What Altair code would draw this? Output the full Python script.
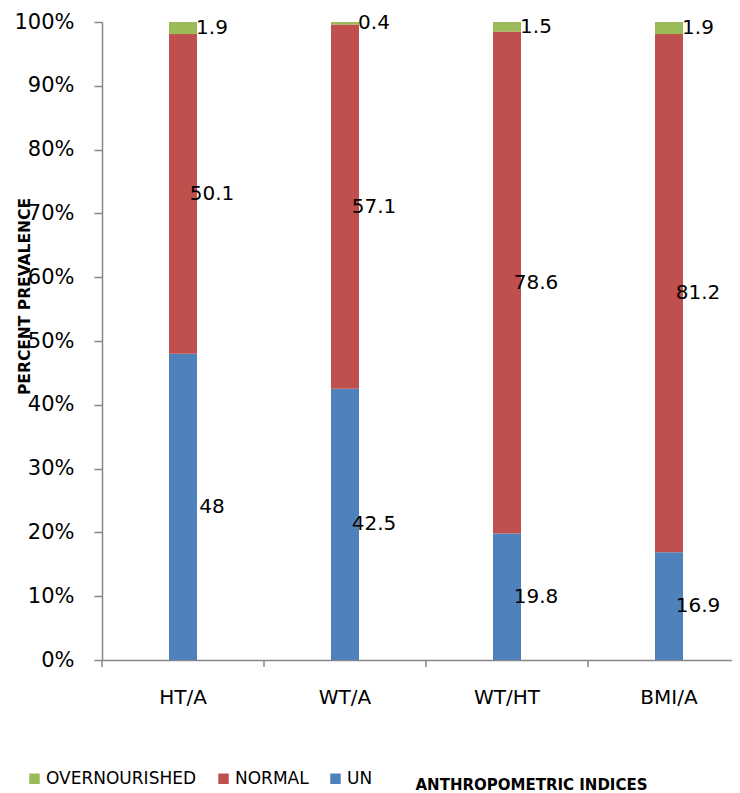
import altair as alt
import pandas as pd

categories = ["HT/A", "WT/A", "WT/HT", "BMI/A"]
un_values = [48, 42.5, 19.8, 16.9]
normal_values = [50.1, 57.1, 78.6, 81.2]
over_values = [1.9, 0.4, 1.5, 1.9]
series_names = ["OVERNOURISHED", "NORMAL", "UN"]
series_colors = ["#9BBB59", "#C0504D", "#4F81BD"]
y_ticks = [0, 0.1, 0.2, 0.3, 0.4, 0.5, 0.6, 0.7, 0.8, 0.9, 1.0]

rows = []
for i, c in enumerate(categories):
    for s, vals, order in [("UN", un_values, 0), ("NORMAL", normal_values, 1), ("OVERNOURISHED", over_values, 2)]:
        rows.append({"cat": c, "series": s, "value": vals[i], "stackorder": order, "label": str(vals[i])})
df = pd.DataFrame(rows)

FONT = "DejaVu Sans"
AXIS_COLOR = "#878787"

base = alt.Chart(df).transform_stack(
    stack="value", groupby=["cat"], as_=["y0", "y1"], offset="normalize",
    sort=[alt.SortField("stackorder", order="ascending")]
).transform_calculate(mid="(datum.y0 + datum.y1) / 2")

xscale = alt.Scale(range=[0, 648], paddingInner=0, paddingOuter=0)

x_enc = alt.X("cat:N", sort=categories, scale=xscale,
              axis=alt.Axis(title="ANTHROPOMETRIC INDICES", titleX=429, titleY=129,
                            titleAlign="center", titleBaseline="alphabetic",
                            titleFont=FONT, titleFontSize=15, titleFontWeight="bold", titleColor="black",
                            labelAngle=0, labelFont=FONT, labelFontSize=20, labelColor="black",
                            labelPadding=27, ticks=False, domainColor=AXIS_COLOR, domainWidth=1.5))

y_axis = alt.Axis(format="%", values=y_ticks, title="PERCENT PREVALENCE",
                  titleX=-78, titleY=274, titleAngle=-90, titleAlign="center", titleBaseline="middle",
                  titleFont=FONT, titleFontSize=15.5, titleFontWeight="bold", titleColor="black",
                  labelFont=FONT, labelFontSize=21, labelColor="black", labelPadding=20,
                  tickSize=8, tickColor=AXIS_COLOR, tickWidth=1.5,
                  domainColor=AXIS_COLOR, domainWidth=1.5, grid=False)

bars = base.mark_bar(size=28).encode(
    x=x_enc,
    y=alt.Y("y0:Q", scale=alt.Scale(domain=[0, 1]), axis=y_axis),
    y2="y1:Q",
    color=alt.Color("series:N", scale=alt.Scale(domain=series_names, range=series_colors),
                    legend=alt.Legend(orient="none", legendX=-76, legendY=748, direction="horizontal",
                                      title=None, symbolType="square", symbolSize=110,
                                      symbolStrokeWidth=0, labelFont=FONT, labelFontSize=17,
                                      labelColor="black", labelOffset=3, columnPadding=18,
                                      labelLimit=300)),
)

labels = base.mark_text(dx=29, dy=0, fontSize=20, font=FONT, align="center",
                        baseline="middle", color="black").encode(
    x=alt.X("cat:N", sort=categories, scale=xscale),
    y=alt.Y("mid:Q"),
    text="label:N",
)

sep = alt.Chart(pd.DataFrame({"cat": categories})).mark_rule(
    color=AXIS_COLOR, strokeWidth=1.5).encode(
    x=alt.X("cat:N", sort=categories, scale=xscale, bandPosition=0),
    y=alt.value(638), y2=alt.value(645),
)

chart = alt.layer(bars, labels, sep).properties(
    width=630, height=638,
    autosize=alt.AutoSizeParams(type="none"),
    padding={"left": 94, "top": 14, "right": 0, "bottom": 133},
).configure_view(stroke=None)

chart.save("out.html", embed_options={"renderer": "svg", "actions": False})
